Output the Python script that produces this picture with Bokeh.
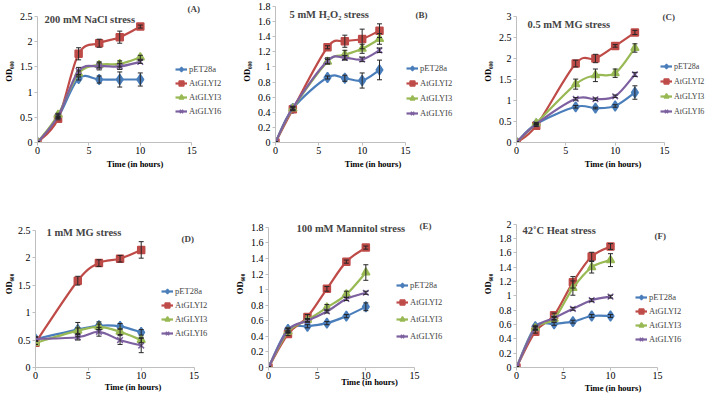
from bokeh.plotting import figure
from bokeh.models import (ColumnDataSource, Whisker, TeeHead, Legend, LegendItem,
                          Label, FixedTicker, CustomJSTickFormatter, Range1d)
from bokeh.layouts import row, column
from bokeh.embed import file_html
from bokeh.resources import INLINE

# ---------------- data ----------------
series_names = ["pET28a", "AtGLYI2", "AtGLYI3", "AtGLYI6"]
x_ticks = [0, 5, 10, 15]
x_label = "Time (in hours)"
y_label = "OD\u2086\u2080\u2080"

# (A) 200 mM NaCl stress
nacl_title = "200 mM NaCl stress"
nacl_time = [0, 2, 4, 6, 8, 10]
nacl_pet28a = [0, 0.50, 1.27, 1.25, 1.25, 1.25]
nacl_pet28a_err = [0.01, 0.02, 0.03, 0.07, 0.15, 0.13]
nacl_glyi2 = [0, 0.47, 1.76, 1.97, 2.09, 2.30]
nacl_glyi2_err = [0.01, 0.02, 0.12, 0.08, 0.12, 0.03]
nacl_glyi3 = [0, 0.55, 1.37, 1.54, 1.56, 1.69]
nacl_glyi3_err = [0.01, 0.03, 0.05, 0.06, 0.06, 0.04]
nacl_glyi6 = [0, 0.52, 1.42, 1.51, 1.51, 1.60]
nacl_glyi6_err = [0.01, 0.03, 0.07, 0.07, 0.06, 0.03]
nacl_yticks = [0, 0.5, 1, 1.5, 2, 2.5]

# (B) 5 mM H2O2 stress
h2o2_title = "5 mM H\u2082O\u2082 stress"
h2o2_time = [0, 2, 6, 8, 10, 12]
h2o2_pet28a = [0, 0.45, 0.86, 0.85, 0.82, 0.96]
h2o2_pet28a_err = [0.01, 0.02, 0.02, 0.04, 0.10, 0.13]
h2o2_glyi2 = [0, 0.44, 1.26, 1.34, 1.37, 1.48]
h2o2_glyi2_err = [0.01, 0.02, 0.02, 0.08, 0.13, 0.09]
h2o2_glyi3 = [0, 0.45, 1.07, 1.16, 1.24, 1.37]
h2o2_glyi3_err = [0.01, 0.02, 0.03, 0.06, 0.06, 0.07]
h2o2_glyi6 = [0, 0.46, 1.08, 1.12, 1.10, 1.22]
h2o2_glyi6_err = [0.01, 0.02, 0.04, 0.03, 0.03, 0.03]
h2o2_yticks = [0, 0.2, 0.4, 0.6, 0.8, 1.0, 1.2, 1.4, 1.6, 1.8]

# (C) 0.5 mM MG stress
mg05_title = "0.5 mM MG stress"
mg05_time = [0, 2, 6, 8, 10, 12]
mg05_pet28a = [0, 0.44, 0.85, 0.82, 0.87, 1.19]
mg05_pet28a_err = [0.01, 0.02, 0.03, 0.02, 0.03, 0.16]
mg05_glyi2 = [0, 0.40, 1.88, 2.00, 2.30, 2.62]
mg05_glyi2_err = [0.01, 0.02, 0.08, 0.10, 0.03, 0.05]
mg05_glyi3 = [0, 0.46, 1.39, 1.60, 1.65, 2.25]
mg05_glyi3_err = [0.01, 0.02, 0.12, 0.15, 0.10, 0.10]
mg05_glyi6 = [0, 0.44, 1.04, 1.03, 1.10, 1.62]
mg05_glyi6_err = [0.01, 0.02, 0.03, 0.03, 0.03, 0.05]
mg05_yticks = [0, 0.5, 1, 1.5, 2, 2.5, 3]

# (D) 1 mM MG stress
mg1_title = "1 mM MG stress"
mg1_time = [0, 4, 6, 8, 10]
mg1_pet28a = [0.52, 0.69, 0.76, 0.75, 0.64]
mg1_pet28a_err = [0.04, 0.13, 0.07, 0.05, 0.05]
mg1_glyi2 = [0.45, 1.58, 1.90, 1.98, 2.14]
mg1_glyi2_err = [0.03, 0.08, 0.06, 0.06, 0.15]
mg1_glyi3 = [0.45, 0.67, 0.74, 0.65, 0.50]
mg1_glyi3_err = [0.03, 0.05, 0.05, 0.05, 0.05]
mg1_glyi6 = [0.52, 0.55, 0.65, 0.50, 0.40]
mg1_glyi6_err = [0.03, 0.05, 0.08, 0.08, 0.13]
mg1_yticks = [0, 0.5, 1, 1.5, 2, 2.5]

# (E) 100 mM Mannitol stress
mann_title = "100 mM Mannitol stress"
mann_time = [0, 2, 4, 6, 8, 10]
mann_pet28a = [0, 0.49, 0.53, 0.57, 0.66, 0.78]
mann_pet28a_err = [0.01, 0.02, 0.02, 0.02, 0.02, 0.05]
mann_glyi2 = [0, 0.43, 0.65, 1.01, 1.36, 1.54]
mann_glyi2_err = [0.01, 0.02, 0.03, 0.03, 0.02, 0.02]
mann_glyi3 = [0, 0.46, 0.61, 0.77, 0.94, 1.22]
mann_glyi3_err = [0.01, 0.02, 0.02, 0.04, 0.04, 0.10]
mann_glyi6 = [0, 0.48, 0.60, 0.72, 0.88, 0.96]
mann_glyi6_err = [0.01, 0.02, 0.02, 0.02, 0.02, 0.02]
mann_yticks = [0, 0.2, 0.4, 0.6, 0.8, 1.0, 1.2, 1.4, 1.6, 1.8]

# (F) 42 C Heat stress
heat_title = "42\u02daC Heat stress"
heat_time = [0, 2, 4, 6, 8, 10]
heat_pet28a = [0, 0.57, 0.61, 0.64, 0.72, 0.72]
heat_pet28a_err = [0.01, 0.02, 0.02, 0.02, 0.02, 0.02]
heat_glyi2 = [0, 0.50, 0.73, 1.19, 1.55, 1.69]
heat_glyi2_err = [0.01, 0.02, 0.03, 0.08, 0.06, 0.04]
heat_glyi3 = [0, 0.55, 0.68, 1.11, 1.40, 1.50]
heat_glyi3_err = [0.01, 0.02, 0.03, 0.10, 0.08, 0.09]
heat_glyi6 = [0, 0.55, 0.69, 0.82, 0.94, 0.99]
heat_glyi6_err = [0.01, 0.02, 0.02, 0.02, 0.02, 0.02]
heat_yticks = [0, 0.2, 0.4, 0.6, 0.8, 1.0, 1.2, 1.4, 1.6, 1.8, 2.0]

# ---------------- style ----------------
FONT = "Liberation Serif"
line_colors = ["#4A7EBB", "#BE4B48", "#98B954", "#7D60A0"]
marker_types = ["diamond", "square", "triangle", "x"]
marker_sizes = [10, 7, 8, 8]
AXIS_COLOR = "#BFBFBF"
ERR_COLOR = "#262626"


def smooth(xs, ys):
    """Bezier control points of a Catmull-Rom style smoothed line."""
    n = len(xs)
    out = {k: [] for k in ("x0", "y0", "x1", "y1", "cx0", "cy0", "cx1", "cy1")}
    for i in range(n - 1):
        a = max(i - 1, 0)
        d = min(i + 2, n - 1)
        out["x0"].append(xs[i]); out["y0"].append(ys[i])
        out["x1"].append(xs[i + 1]); out["y1"].append(ys[i + 1])
        out["cx0"].append(xs[i] + (xs[i + 1] - xs[a]) / 6.0)
        out["cy0"].append(ys[i] + (ys[i + 1] - ys[a]) / 6.0)
        out["cx1"].append(xs[i + 1] - (xs[d] - xs[i]) / 6.0)
        out["cy1"].append(ys[i + 1] - (ys[d] - ys[i]) / 6.0)
    return out


def panel(time, series, errors, yticks, title, tag, lay):
    # w, h: figure size; bl, bb: left/bottom borders; ax_w, ax_h: axis lengths (px)
    w, h, bl, bb, ax_w, ax_h = lay["size"]
    fw, fh = w - bl, h - bb
    xmax = x_ticks[-1]
    ymax = yticks[-1]
    p = figure(width=w, height=h, output_backend="svg", toolbar_location=None,
               title=None,
               x_range=Range1d(0, xmax * fw / ax_w), y_range=Range1d(0, ymax * fh / ax_h),
               min_border_left=bl, min_border_top=0,
               min_border_right=0, min_border_bottom=bb)
    p.outline_line_color = None
    p.xgrid.visible = False
    p.ygrid.visible = False
    p.background_fill_color = "white"
    p.border_fill_color = "white"

    for ax in (p.xaxis[0], p.yaxis[0]):
        ax.axis_line_color = AXIS_COLOR
        ax.major_tick_line_color = AXIS_COLOR
        ax.minor_tick_line_color = None
        ax.major_tick_out = 3
        ax.major_tick_in = 0
        ax.major_label_standoff = 2
        ax.major_label_text_font = FONT
        ax.major_label_text_font_size = "10px"
        ax.major_label_text_color = "black"
        ax.axis_label_text_font = FONT
        ax.axis_label_text_font_size = "8.5px"
        ax.axis_label_text_font_style = "bold"
        ax.axis_label_text_color = "black"
    p.xaxis[0].bounds = (0, xmax)
    p.yaxis[0].bounds = (0, ymax)
    p.xaxis[0].ticker = FixedTicker(ticks=x_ticks)
    p.yaxis[0].ticker = FixedTicker(ticks=yticks)
    p.yaxis[0].formatter = CustomJSTickFormatter(code="return String(Math.round(tick*10)/10)")
    p.xaxis[0].axis_label = x_label
    p.yaxis[0].axis_label = y_label
    p.xaxis[0].major_label_standoff = 1
    p.xaxis[0].axis_label_standoff = lay["xstand"]
    p.yaxis[0].axis_label_standoff = lay["ystand"]

    items = []
    for k, name in enumerate(series_names):
        ys = series[k]
        errs = errors[k]
        src = ColumnDataSource(dict(x=time, y=ys,
                                    lo=[v - e for v, e in zip(ys, errs)],
                                    hi=[v + e for v, e in zip(ys, errs)]))
        wk = Whisker(source=src, base="x", lower="lo", upper="hi",
                     line_color=ERR_COLOR, line_width=1,
                     upper_head=TeeHead(size=5, line_color=ERR_COLOR, line_width=1),
                     lower_head=TeeHead(size=5, line_color=ERR_COLOR, line_width=1),
                     level="glyph")
        p.add_layout(wk)
        bz = p.bezier(source=ColumnDataSource(smooth(time, ys)),
                      x0="x0", y0="y0", x1="x1", y1="y1",
                      cx0="cx0", cy0="cy0", cx1="cx1", cy1="cy1",
                      line_color=line_colors[k], line_width=2.2)
        sc = p.scatter(x="x", y="y", source=src, marker=marker_types[k],
                       size=marker_sizes[k], fill_color=line_colors[k],
                       line_color=line_colors[k], line_width=1.5)
        items.append(LegendItem(label=name, renderers=[bz, sc]))

    lg = Legend(items=items, location=lay["legend"], padding=0, margin=0,
                spacing=lay["lspace"], glyph_width=12, glyph_height=12,
                label_height=10, label_standoff=2,
                label_text_font=FONT, label_text_font_size=lay["lfont"],
                background_fill_alpha=0, border_line_alpha=0)
    p.add_layout(lg)

    tx, ty = lay["title"]
    p.add_layout(Label(x=tx, y=ty, x_units="screen", y_units="screen", text=title,
                       text_font=FONT, text_font_size="10.5px", text_font_style="bold",
                       text_baseline="middle", text_align="left"))
    gx, gy = lay["tag"]
    p.add_layout(Label(x=gx, y=gy, x_units="screen", y_units="screen", text=tag,
                       text_font=FONT, text_font_size="9px", text_font_style="bold",
                       text_baseline="middle", text_align="left"))
    return p


# layout: size = (fig width, fig height, left border, bottom border, axis width, axis height)
lay_a = dict(size=(232, 200, 36, 58, 155, 126), legend=(138, 25), lspace=2, lfont="8.5px",
             title=(7, 123), tag=(150, 134), xstand=2, ystand=3)
lay_b = dict(size=(238, 200, 43, 57, 130, 137), legend=(131, 23), lspace=3, lfont="8.5px",
             title=(14, 128), tag=(140, 128), xstand=2, ystand=3)
lay_c = dict(size=(239, 200, 46, 58, 148, 126), legend=(144, 25), lspace=3, lfont="8px",
             title=(11, 118), tag=(146, 126), xstand=2, ystand=3)
lay_d = dict(size=(230, 195, 32, 26, 161, 139), legend=(126, 28), lspace=2, lfont="8.5px",
             title=(11, 135), tag=(146, 129), xstand=0, ystand=1)
lay_e = dict(size=(240, 195, 38, 21, 146, 146), legend=(128, 25), lspace=5, lfont="8.5px",
             title=(28, 139), tag=(151, 142), xstand=-5, ystand=3)
lay_f = dict(size=(239, 195, 46, 27, 141, 144), legend=(119, 22), lspace=2, lfont="8.5px",
             title=(6, 137), tag=(138, 132), xstand=1, ystand=3)

pa = panel(nacl_time, [nacl_pet28a, nacl_glyi2, nacl_glyi3, nacl_glyi6],
           [nacl_pet28a_err, nacl_glyi2_err, nacl_glyi3_err, nacl_glyi6_err],
           nacl_yticks, nacl_title, "(A)", lay_a)
pb = panel(h2o2_time, [h2o2_pet28a, h2o2_glyi2, h2o2_glyi3, h2o2_glyi6],
           [h2o2_pet28a_err, h2o2_glyi2_err, h2o2_glyi3_err, h2o2_glyi6_err],
           h2o2_yticks, h2o2_title, "(B)", lay_b)
pc = panel(mg05_time, [mg05_pet28a, mg05_glyi2, mg05_glyi3, mg05_glyi6],
           [mg05_pet28a_err, mg05_glyi2_err, mg05_glyi3_err, mg05_glyi6_err],
           mg05_yticks, mg05_title, "(C)", lay_c)
pd = panel(mg1_time, [mg1_pet28a, mg1_glyi2, mg1_glyi3, mg1_glyi6],
           [mg1_pet28a_err, mg1_glyi2_err, mg1_glyi3_err, mg1_glyi6_err],
           mg1_yticks, mg1_title, "(D)", lay_d)
pe = panel(mann_time, [mann_pet28a, mann_glyi2, mann_glyi3, mann_glyi6],
           [mann_pet28a_err, mann_glyi2_err, mann_glyi3_err, mann_glyi6_err],
           mann_yticks, mann_title, "(E)", lay_e)
pf = panel(heat_time, [heat_pet28a, heat_glyi2, heat_glyi3, heat_glyi6],
           [heat_pet28a_err, heat_glyi2_err, heat_glyi3_err, heat_glyi6_err],
           heat_yticks, heat_title, "(F)", lay_f)

layout = column(row(pa, pb, pc), row(pd, pe, pf))
open("out.html", "w").write(file_html(layout, INLINE))
